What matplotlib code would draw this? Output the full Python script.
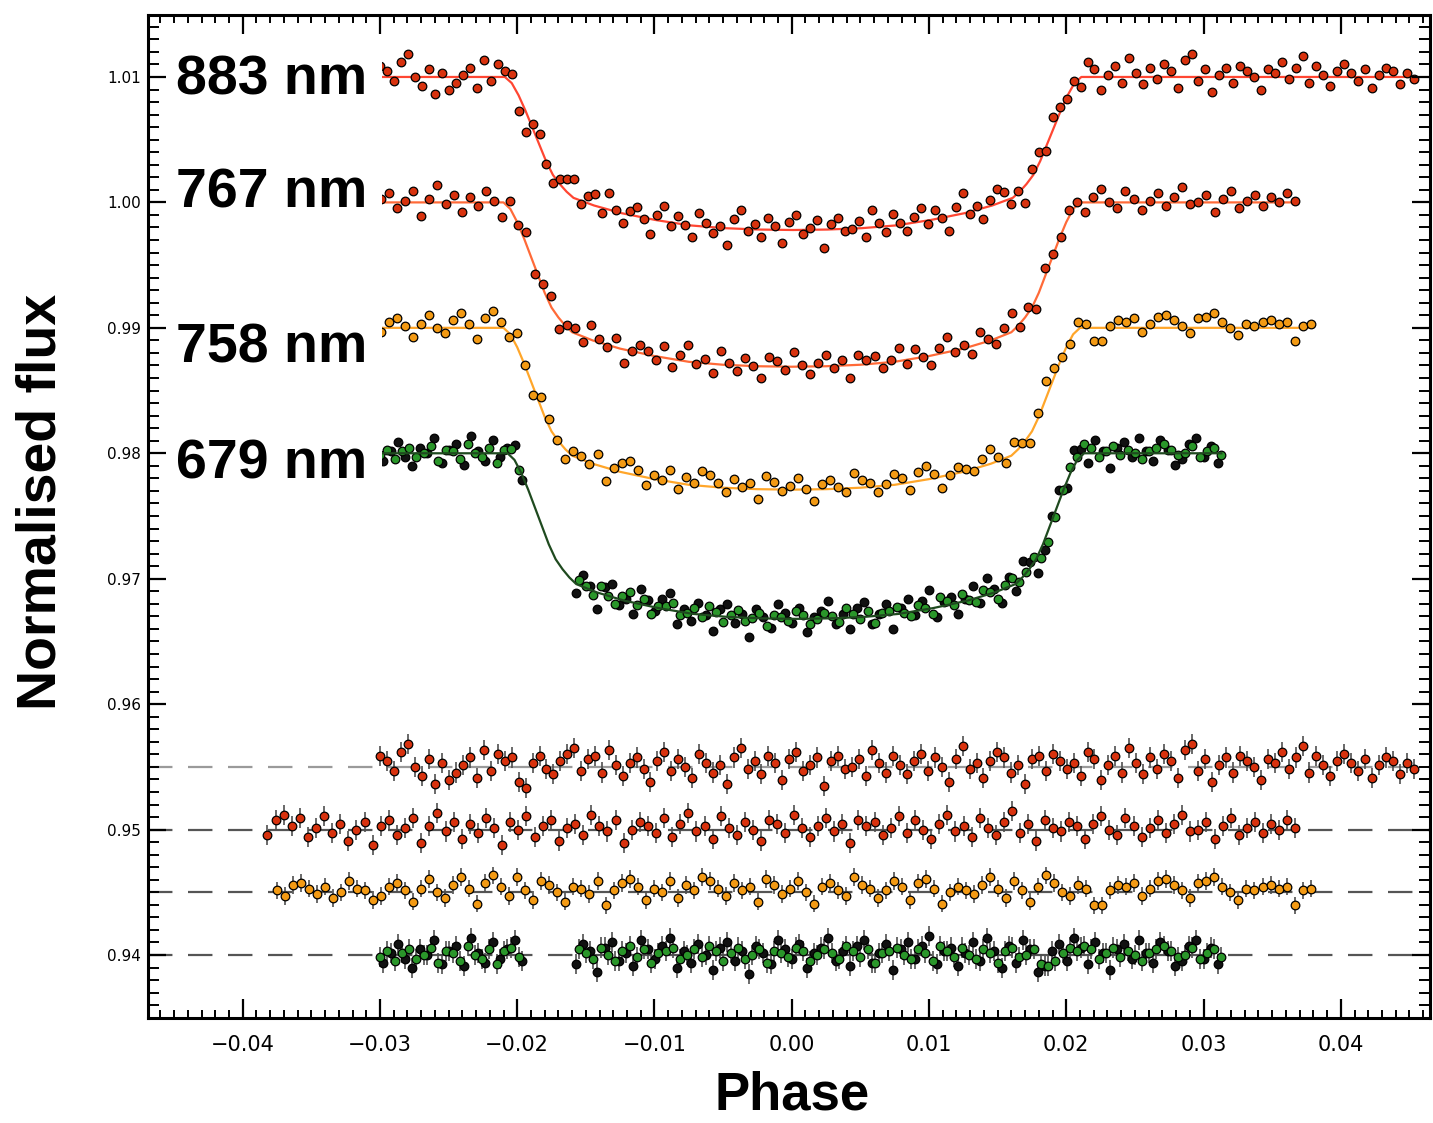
import numpy as np
import matplotlib
matplotlib.use("Agg")
import matplotlib.pyplot as plt
from matplotlib.ticker import MultipleLocator, FuncFormatter
from matplotlib.patches import Rectangle

# ---------------- data ----------------
labels = ["883 nm", "767 nm", "758 nm", "679 nm"]
label_y = [1.0086, 0.99956, 0.98721, 0.97796]

# transit model profile (fraction of full depth vs phase from mid-transit)
profile_phase = [-0.0500, -0.0210, -0.0205, -0.0200, -0.0195, -0.0190, -0.0185, -0.0180,
                 -0.0175, -0.0170, -0.0165, -0.0160, -0.0145, -0.0125, -0.0100, -0.0075,
                 -0.0050, -0.0025, 0.0000, 0.0025, 0.0050, 0.0075, 0.0100, 0.0125,
                 0.0145, 0.0160, 0.0165, 0.0170, 0.0175, 0.0180, 0.0185, 0.0190,
                 0.0195, 0.0200, 0.0205, 0.0210, 0.0500]
profile_frac = [0.0, 0.0, 0.04, 0.12, 0.22, 0.33, 0.44, 0.55, 0.64, 0.70, 0.75, 0.79, 0.84,
                0.89, 0.935, 0.97, 0.988, 0.997, 1.0, 0.997, 0.988, 0.97, 0.935, 0.89,
                0.84, 0.79, 0.75, 0.70, 0.64, 0.55, 0.44, 0.33, 0.22, 0.12, 0.04, 0.0, 0.0]

baseline = [1.010, 1.000, 0.990, 0.980]
depth = [0.0122, 0.0131, 0.0129, 0.0132]
t0 = [0.0001, 0.0, 0.0, 0.0003]
phase_range = [(-0.0300, 0.0453), (-0.0382, 0.0367), (-0.0375, 0.0378), (-0.0300, 0.0313)]
resid_offset = [0.955, 0.950, 0.945, 0.940]
err = [0.0008, 0.0008, 0.0007, 0.0008]

# residuals, in units of res_unit
res_unit = 1.5e-4
res883 = [6, 3, -2, 8, 12, 0, -5, 4, -9, 2, -7, -3, 1, 5, -6, 9, -2, 7, 3, 5, -8, -11, 2, 6, -1,
          -4, 3, 7, 10, -2, 4, 6, -3, 9, 1, -5, 2, 5, -1, -8, 3, 8, -2, 4, 0, -6, 7, 2, -3, 1,
          -9, 5, 10, -1, 3, -4, 6, 2, -7, 4, 8, -2, 1, 5, -10, 3, 6, -1, 0, 4, -5, 9, 2, -3, 6,
          1, -4, 3, 7, -2, 5, 0, -8, 4, 11, -1, 2, -6, 3, 8, 5, -3, 1, -9, 4, 6, -2, 7, 3, -1,
          2, -5, 8, 4, -7, 1, 6, -3, 10, 2, -4, 5, -1, 7, 3, -6, 9, 12, -2, 4, -8, 1, 5, -3, 6,
          3, 0, -7, 4, 2, 8, -1, 5, 11, -3, 6, 1, -5, 3, 7, 2, -2, 4, -6, 1, 5, 3, -4, 2, -1]
res767 = [-3, 5, 8, 2, 6, -4, 1, 7, -2, 3, -6, 0, 4, -8, 2, 5, -3, 1, 6, -7, 2, 9, -1, 4, -5,
          3, -2, 6, 1, -8, 4, 0, 7, -4, 2, 5, -6, 1, 3, -3, 8, 2, -1, 5, -7, 0, 4, 2, -2, 6,
          -4, 3, 9, -1, 2, -5, 7, 1, -3, 4, 0, -6, 5, 3, -2, 8, 1, -4, 2, 6, -1, 3, -7, 5, 2,
          4, -3, 1, 7, -2, 5, 0, -5, 3, 8, -1, 2, -4, 6, 1, -3, 4, 10, -2, 3, -6, 5, 1, -1, 4,
          2, -5, 3, 7, 0, -3, 6, 2, -4, 1, 5, -2, 3, 8, -1, 0, 4, -5, 2, 6, -3, 1, 4, -2, 3,
          0, 5, 1]
res758 = [1, -2, 4, 5, 2, -1, 3, -3, 0, 6, 2, 1, -4, -2, 3, 5, 1, -5, 2, 7, 0, -3, 4, 8, 2,
          -6, 5, 9, 3, -2, 8, 1, -4, 6, 4, 0, -5, 3, 2, -1, 6, -7, 1, 5, 7, 3, -4, 2, 0, 6,
          -3, 4, 1, 8, 6, 2, -2, 5, 1, 3, -5, 7, 4, -1, 2, 6, 0, -6, 3, 5, 1, -2, 8, 4, 2,
          -3, 1, 6, 3, -4, 5, 7, 2, -6, 0, 3, 1, -1, 4, 8, 2, -3, 6, 1, -5, 3, 9, 5, 0, -2,
          4, 2, -7, -7, 1, 4, 3, 5, -2, 2, 6, 7, 4, 1, -3, 5, 6, 8, 3, 0, -4, 2, 1, 3, 4,
          2, 3, -7, 1, 2]
res679g = [-1, 2, -3, 1, 3, -2, 0, 4, -4, 2, 1, -3, 5, 0, -2, 3, -5, 2, 4, -1,
           3, 1, -2, 4, 0, -3, 2, 5, -1, 3, -4, 1, 2, 4, -2, 0, 3, -1, 5, 2,
           -3, 1, 4, -2, 0, 3, -4, 2, 1, -1, 4, 2, -3, 0, 3, 1, -2, 5, 2, -1,
           3, -4, 1, 2, 4, 0, -2, 3, 1, -3, 5, 2, -1, 4, 0, -2, 3, 1, -4, 2,
           4, -1, 0, 3, -5, -6, -3, 1, 4, 2, 5, 3, -2, 1, 4, -1, 2, 0, -3, 1,
           3, 5, 2, -1, 0, 4, -2, 1, 3, -1]
res679k = [-4, 1, 6, -2, -7, 3, 0, 8, -5, 2, 5, -6, 9, 1, -4, 7, -2, 3, 8, -3,
           -5, 6, 2, -9, 4, 7, -3, 1, -6, 8, 3, -2, 5, 9, -7, 2, -4, 6, 0, -8,
           4, 7, -3, 2, -10, 5, 1, -5, 8, 3, -2, 6, -7, 1, 4, 9, -3, 2, -6, 5,
           8, -4, 1, 6, -8, 3, 7, -2, 5, 10, -5, 2, 4, -6, 1, 7, -3, 9, 2, -7,
           5, -4, 8, 3, -9, -6, 2, 6, -3, 9, 4, -5, 7, 1, -8, 3, 6, -2, 8, 1,
           -4, 7, 2, -6, -3, 5, 8, -2, 4, -5]
gap679 = (-0.0199, -0.0155)

residuals = [res883, res767, res758]
dot_colors = ["#d8320e", "#d8320e", "#f39a14"]
line_colors = ["#ff4632", "#ff6a38", "#ffa62a", "#1f4a1f"]
green_color = "#2a962a"

# ---------------- figure ----------------
W, H = 1433, 1123
fig = plt.figure(figsize=(W / 100, H / 100), dpi=100)
ax = fig.add_axes([148 / W, 1 - 1018 / H, (1430 - 148) / W, (1018 - 15) / H])
ax.set_xlim(-0.0469, 0.0465)
ax.set_ylim(0.93498, 1.01494)


def model(ph, i):
    return baseline[i] - depth[i] * np.interp(np.asarray(ph) - t0[i], profile_phase, profile_frac)


ms = 6.2
mew = 0.9

# standard three curves
for i in range(3):
    res = np.array(residuals[i]) * res_unit
    ph = np.linspace(phase_range[i][0], phase_range[i][1], len(res))
    mline_ph = np.array(profile_phase) + t0[i]
    mline_ph = mline_ph[(mline_ph >= phase_range[i][0]) & (mline_ph <= phase_range[i][1])]
    mline_ph = np.concatenate([[phase_range[i][0]], mline_ph, [phase_range[i][1]]])
    ax.plot(mline_ph, model(mline_ph, i), color=line_colors[i], lw=1.6, zorder=3)
    ax.plot(ph, model(ph, i) + res, 'o', ms=ms, mfc=dot_colors[i], mec='k', mew=mew, zorder=4)
    ax.errorbar(ph, resid_offset[i] + res, yerr=err[i], fmt='o', ms=ms, mfc=dot_colors[i],
                mec='k', mew=mew, ecolor='#505050', elinewidth=1.2, capsize=0, zorder=4)

# 679 nm: two interleaved datasets (black and green)
i = 3
for res_list, fc, shift in [(res679k, "#111111", 0.5), (res679g, green_color, 0.0)]:
    res = np.array(res_list) * res_unit
    n1 = 20
    n2 = len(res) - n1
    s1 = (gap679[0] - phase_range[i][0]) / (n1 - 1)
    s2 = (phase_range[i][1] - gap679[1]) / (n2 - 1)
    ph = np.concatenate([np.linspace(phase_range[i][0], gap679[0], n1) + shift * s1 * 0.9,
                         np.linspace(gap679[1], phase_range[i][1], n2) - shift * s2 * 0.9])
    ax.plot(ph, model(ph, i) + res, 'o', ms=ms, mfc=fc, mec='k', mew=mew, zorder=4)
    ax.errorbar(ph, resid_offset[i] + res, yerr=err[i], fmt='o', ms=ms, mfc=fc,
                mec='k', mew=mew, ecolor='#505050', elinewidth=1.2, capsize=0, zorder=4)
mline_ph = np.array(profile_phase) + t0[i]
mline_ph = mline_ph[(mline_ph >= phase_range[i][0]) & (mline_ph <= phase_range[i][1])]
mline_ph = np.concatenate([[phase_range[i][0]], mline_ph, [phase_range[i][1]]])
ax.plot(mline_ph, model(mline_ph, i), color=line_colors[i], lw=1.6, zorder=4.5)

# dashed zero lines for residuals
for k, off in enumerate(resid_offset):
    ax.axhline(off, color='#9a9a9a' if k == 0 else '#555555', lw=1.6,
               dashes=(11, 7), zorder=2)

# white patch behind wavelength labels
ax.add_patch(Rectangle((-0.0469, 0.9760), -0.02985 + 0.0469, 1.01494 - 0.9760,
                       facecolor='white', edgecolor='none', zorder=5))
for lab, y in zip(labels, label_y):
    ax.text(-0.0309, y, lab, ha='right', va='baseline', fontsize=40, fontweight='bold',
            family='Liberation Sans', zorder=6)

# ---------------- axes styling ----------------
for sp in ax.spines.values():
    sp.set_linewidth(2.2)
    sp.set_zorder(10)
ax.xaxis.set_zorder(10)
ax.yaxis.set_zorder(10)

ax.xaxis.set_major_locator(MultipleLocator(0.01))
ax.xaxis.set_minor_locator(MultipleLocator(0.001))
ax.yaxis.set_major_locator(MultipleLocator(0.01))
ax.yaxis.set_minor_locator(MultipleLocator(0.001))
fmt = FuncFormatter(lambda v, p: ("%.2f" % v).replace("-", "\u2212"))
ax.xaxis.set_major_formatter(fmt)
ax.yaxis.set_major_formatter(FuncFormatter(lambda v, p: "%.2f" % v))

ax.tick_params(axis='x', which='both', direction='in', top=True, bottom=True)
ax.tick_params(axis='y', which='both', direction='in', left=True, right=True)
ax.tick_params(axis='x', which='major', length=14, width=1.6, labelsize=15, pad=12)
ax.tick_params(axis='x', which='minor', length=6, width=1.4)
ax.tick_params(axis='y', which='major', length=13, width=1.6, labelsize=11, pad=5)
ax.tick_params(axis='y', which='minor', length=8, width=1.4)

fig.text(42 / W, 1 - 502 / H, "Normalised flux", rotation=90, ha='center', va='center',
         fontsize=40, fontweight='bold', family='Liberation Sans')
fig.text(792 / W, 1 - 1096 / H, "Phase", ha='center', va='center',
         fontsize=38, fontweight='bold', family='Liberation Sans')

fig.savefig("out.png", dpi=100)
